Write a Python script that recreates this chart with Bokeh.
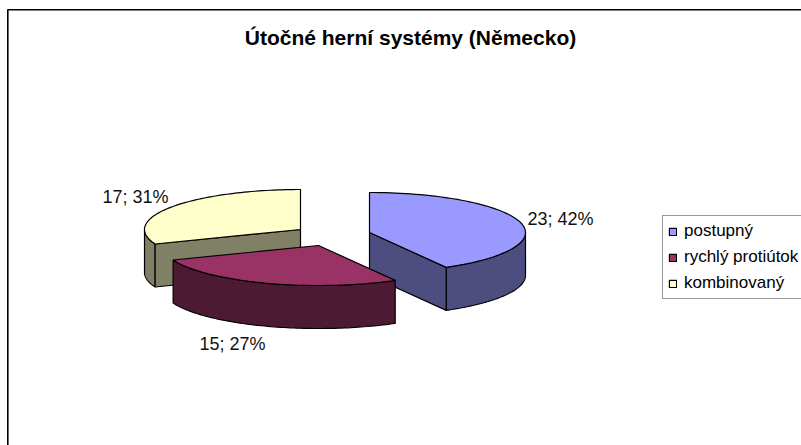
import numpy as np
from bokeh.embed import file_html
from bokeh.resources import INLINE
from bokeh.plotting import figure
from bokeh.models import Range1d, Legend, LegendItem
from bokeh.core.properties import value

title = "Útočné herní systémy (Německo)"
categories = ["postupný", "rychlý protiútok", "kombinovaný"]
counts = [23, 15, 17]
percents = [42, 27, 31]
top_colors = ["#9999FF", "#993366", "#FFFFCC"]
side_colors = ["#4D4D80", "#4D1A33", "#808066"]

W, H = 801, 445
A, B, DEPTH = 156, 40, 43
centers = [(369, 232), (318, 245), (300, 229)]   # exploded slice centres (page px)
label_pos = [(527, 218), (199, 343), (102, 196)]

p = figure(width=W, height=H, output_backend="svg", toolbar_location=None,
           x_range=Range1d(0, W), y_range=Range1d(H, 0),
           min_border=0, outline_line_color=None, background_fill_color="white",
           border_fill_color="white", x_axis_location=None, y_axis_location=None)
p.grid.visible = False

# frame
p.line([7.3, 7.3, 810], [460, 9.2, 9.2], line_color="black", line_width=1.6)

total = sum(counts)
ends = np.cumsum(counts) / total * 2 * np.pi
starts = np.concatenate([[0], ends[:-1]])

def pt(c, a, dy=0):
    return c[0] + A * np.sin(a), c[1] - B * np.cos(a) + dy

def arc(c, a0, a1, dy=0):
    t = np.linspace(a0, a1, 80)
    x, y = pt(c, t, dy)
    return list(x), list(y)

top_r = {}
for i in [0, 2, 1]:          # paint order: red slice sits in front
    c, a0, a1 = centers[i], starts[i], ends[i]
    # outer wall: the part of the rim that faces the viewer
    lo, hi = max(a0, np.pi / 2), min(a1, 3 * np.pi / 2)
    if hi > lo:
        xa, ya = arc(c, lo, hi)
        xb, yb = arc(c, hi, lo, DEPTH)
        p.patch(xa + xb, ya + yb, fill_color=side_colors[i], line_color="black", line_width=1.2)
    # radial wall
    for a in (a0, a1):
        ex, ey = pt(c, a)
        if (i == 0 and a == a1) or (i == 2 and a == a0):
            p.patch([c[0], ex, ex, c[0]], [c[1], ey, ey + DEPTH, c[1] + DEPTH],
                    fill_color=side_colors[i], line_color="black", line_width=1.2)
    xa, ya = arc(c, a0, a1)
    top_r[i] = p.patch([c[0]] + xa, [c[1]] + ya, fill_color=top_colors[i],
                       line_color="black", line_width=1.2)

labels = [f"{n}; {q}%" for n, q in zip(counts, percents)]
p.text([q[0] for q in label_pos], [q[1] for q in label_pos], text=labels,
       text_font=value("Liberation Sans"), text_font_size="18px", text_color="#111111",
       text_baseline="middle", text_align="left")
p.text([410], [37], text=[title], text_font=value("Liberation Sans"), text_font_style="bold",
       text_font_size="21px", text_color="black", text_align="center", text_baseline="middle")

legend = Legend(items=[LegendItem(label=value(c), renderers=[top_r[i]]) for i, c in enumerate(categories)],
                location=(662, 146), orientation="vertical",
                glyph_width=9, glyph_height=9, label_text_font="Liberation Sans",
                label_text_font_size="17px", label_text_color="black",
                border_line_color="#333333", border_line_width=1, padding=5, spacing=6,
                margin=0, background_fill_alpha=1, label_standoff=7)
p.add_layout(legend)

open("out.html", "w").write(file_html(p, INLINE))
